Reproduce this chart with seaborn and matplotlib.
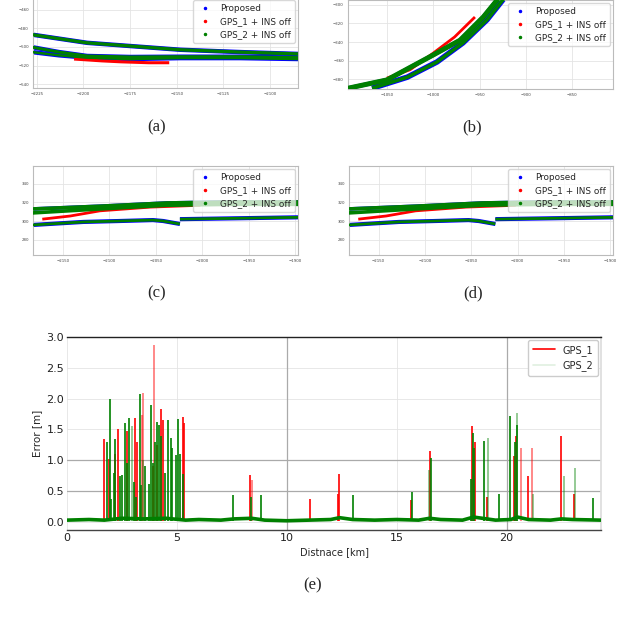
import matplotlib
matplotlib.use("Agg")
import matplotlib.pyplot as plt
from matplotlib.lines import Line2D
import seaborn as sns

sns.set_theme(style="whitegrid")
plt.rcParams.update({
    "font.family": ["DejaVu Sans"],
    "axes.edgecolor": "#bbbbbb",
    "grid.color": "#e4e4e4",
    "grid.linewidth": 0.6,
})

BLUE, RED, GREEN = "#0000ff", "#ff0000", "#008000"
TRAJ_LABELS = ["Proposed", "GPS_1 + INS off", "GPS_2 + INS off"]

# ---------------------------------------------------------------------------
# (a) trajectory segment
# ---------------------------------------------------------------------------
A_XTICKS = [-2225, -2200, -2175, -2150, -2125, -2100]
A_YTICKS = [-460, -480, -500, -520, -540]
A_UP_X = [-2228, -2198, -2148, -2116, -2085]
A_UP_Y = [-486.5, -495.5, -503, -505.5, -507.5]
A_LO_X = [-2228, -2213, -2198, -2175, -2148, -2116, -2085]
A_LO1_Y = [-500, -505.5, -509.7, -510.8, -510.5, -510.5, -511.5]
A_LO2_Y = [-505.4, -509, -511.5, -513, -512, -512, -513]
A_RED_X = [-2205, -2190, -2180, -2165, -2154]
A_RED_Y = [-513, -515, -516, -517, -517]

# ---------------------------------------------------------------------------
# (b) curve segment
# ---------------------------------------------------------------------------
B_XTICKS = [-1050, -1000, -950, -900, -850]
B_YTICKS = [-300, -320, -340, -360, -380]
B_UP_X = [-1092, -1050, -1000, -971, -946, -931, -923]
B_UP_Y = [-390, -381, -354, -338, -313, -294.6, -284]
B_LO_X = [-1066, -1028, -996, -968, -942, -925, -917]
B_LO_Y = [-390, -378, -361.6, -341, -316, -294.6, -284]
B_RED_X = [-1050, -1025, -1000, -977, -955]
B_RED_Y = [-379, -370, -352, -334.6, -313]

# ---------------------------------------------------------------------------
# (c) / (d) parallel road segment
# ---------------------------------------------------------------------------
C_XTICKS = [-2150, -2100, -2050, -2000, -1950, -1900]
C_YTICKS = [340, 320, 300, 280]
C_UP_X = [-2183, -2110, -2038, -1970, -1896]
C_UP1_Y = [313, 316, 319.5, 320.6, 320.6]
C_UP2_Y = [308.7, 313, 317, 318, 318]
C_RED_X = [-2172, -2142, -2110, -2056, -2002]
C_RED_Y = [302, 305.4, 311, 315, 317]
C_LO_X = [-2183, -2128, -2089, -2053, -2042, -2024]
C_LO_Y = [295.7, 299, 300, 301, 300, 296.8]
C_LO2_X = [-2024, -1959, -1896]
C_LO2_Y = [302, 303, 304]

# ---------------------------------------------------------------------------
# (e) error vs distance
# ---------------------------------------------------------------------------
E_XTICKS = [0, 5, 10, 15, 20]
E_YTICKS = [0.0, 0.5, 1.0, 1.5, 2.0, 2.5, 3.0]
E_DARK_X = [10, 20]
E_DARK_Y = [0.5, 1.0]

R_X = [1.70, 1.91, 2.18, 2.30, 2.75, 3.10, 3.20, 3.90, 4.08, 4.27, 4.35,
       5.26, 5.33, 8.33, 11.05, 12.35, 12.38, 15.67, 16.52, 18.43, 18.55,
       19.12, 20.36, 20.43, 20.97, 22.49, 23.05]
R_H = [1.34, 1.02, 1.10, 1.50, 1.47, 1.69, 1.30, 0.90, 1.25, 1.84, 1.65,
       1.71, 1.61, 0.77, 0.38, 0.45, 0.78, 0.35, 1.15, 1.55, 1.30,
       0.41, 1.07, 1.39, 0.74, 1.39, 0.46]
RL_X = [3.41, 3.48, 3.94, 8.42, 20.64, 21.14]
RL_H = [1.73, 2.09, 2.87, 0.68, 1.20, 1.20]

G_X = [1.80, 1.95, 2.00, 2.13, 2.18, 2.40, 2.52, 2.65, 2.75, 2.82, 3.05,
       3.15, 3.32, 3.36, 3.55, 3.72, 3.82, 3.90, 4.00, 4.11, 4.20, 4.30,
       4.45, 4.60, 4.71, 4.80, 4.94, 5.03, 5.12, 5.28, 7.56, 8.38, 8.82,
       13.00, 15.70, 16.55, 18.40, 18.46, 18.52, 18.98, 19.68, 20.17,
       20.40, 20.50, 23.95]
G_H = [1.30, 1.99, 0.38, 0.80, 1.35, 0.75, 0.77, 1.61, 0.95, 1.69, 0.65,
       0.40, 2.07, 0.60, 0.90, 0.62, 1.89, 0.95, 1.30, 1.62, 1.58, 1.40,
       0.80, 1.66, 1.37, 1.20, 1.08, 1.67, 1.10, 0.78, 0.43, 0.40, 0.43,
       0.44, 0.49, 1.04, 0.70, 1.44, 1.20, 1.31, 0.46, 1.72,
       1.30, 1.58, 0.39]
GL_X = [2.95, 3.45, 16.48, 19.15, 20.50, 21.20, 22.60, 23.10]
GL_H = [1.55, 1.00, 0.84, 1.36, 1.77, 0.46, 0.74, 0.88]

BASE_X = [0, 1, 1.7, 2.5, 3.5, 4.5, 5.4, 6, 7, 7.6, 8.4, 9, 10, 11, 12, 12.4,
          13, 14, 15, 16, 16.5, 17, 18, 18.5, 19.1, 19.5, 20.2, 20.5, 21, 22,
          22.5, 23, 24.3]
BASE_Y = [0.03, 0.04, 0.03, 0.06, 0.05, 0.06, 0.03, 0.04, 0.03, 0.05, 0.06,
          0.03, 0.02, 0.03, 0.04, 0.07, 0.04, 0.03, 0.04, 0.03, 0.06, 0.04,
          0.03, 0.08, 0.05, 0.03, 0.04, 0.08, 0.04, 0.03, 0.05, 0.04, 0.03]

W, H = 640, 623
fig = plt.figure(figsize=(W / 100, H / 100), dpi=100)


def px_axes(left, top, right, bottom):
    return fig.add_axes([left / W, 1 - bottom / H, (right - left) / W, (bottom - top) / H])


def style_small(ax, xticks, yticks, xlim, ylim):
    ax.set_xticks(xticks)
    ax.set_yticks(yticks)
    ax.set_xlim(*xlim)
    ax.set_ylim(*ylim)
    ax.tick_params(labelsize=2.8, length=1.5, width=0.4, pad=1.5, colors="#444444")
    for s in ax.spines.values():
        s.set_color("#bbbbbb")
        s.set_linewidth(0.8)
    handles = [Line2D([], [], ls="", marker=".", ms=3, color=c) for c in (BLUE, RED, GREEN)]
    ax.legend(handles, TRAJ_LABELS, loc="upper right", fontsize=6.4, framealpha=0.75,
              borderpad=0.45, handletextpad=0.8, labelspacing=0.45, handlelength=1.8,
              borderaxespad=0.35)


def tr(ax, x, y, color, lw=2.6, z=2):
    ax.plot(x, y, color=color, lw=lw, solid_capstyle="butt", zorder=z)


# (a)
ax = px_axes(33, -3, 298, 88)
tr(ax, A_UP_X, A_UP_Y, BLUE, lw=3.2)
tr(ax, A_LO_X, A_LO1_Y, BLUE, lw=3.2)
tr(ax, A_LO_X, A_LO2_Y, BLUE, lw=3.2)
tr(ax, A_RED_X, A_RED_Y, RED, lw=2.2, z=3)
tr(ax, A_UP_X, A_UP_Y, GREEN, lw=2.4, z=4)
tr(ax, A_LO_X, A_LO1_Y, GREEN, lw=2.2, z=4)
tr(ax, A_LO_X, A_LO2_Y, GREEN, lw=1.8, z=4)
style_small(ax, A_XTICKS, A_YTICKS, (-2227, -2085), (-544.3, -446))

# (b)
ax = px_axes(348, 0, 613, 89)
tr(ax, B_LO_X, B_LO_Y, BLUE, lw=4.0)
tr(ax, B_UP_X, B_UP_Y, BLUE, lw=3.0)
tr(ax, B_RED_X, B_RED_Y, RED, lw=2.0, z=3)
tr(ax, B_UP_X, B_UP_Y, GREEN, lw=3.6, z=4)
tr(ax, B_LO_X, B_LO_Y, GREEN, lw=2.6, z=4)
style_small(ax, B_XTICKS, B_YTICKS, (-1092, -806), (-390.8, -294.6))

# (c) and (d)
for left, right in ((33, 298), (349, 613)):
    ax = px_axes(left, 166, right, 255)
    tr(ax, C_UP_X, C_UP1_Y, BLUE, lw=2.6)
    tr(ax, C_LO_X, C_LO_Y, BLUE, lw=3.0)
    tr(ax, C_LO2_X, C_LO2_Y, BLUE, lw=3.0)
    tr(ax, C_RED_X, C_RED_Y, RED, lw=2.0, z=3)
    tr(ax, C_UP_X, C_UP1_Y, GREEN, lw=2.6, z=4)
    tr(ax, C_UP_X, C_UP2_Y, GREEN, lw=2.6, z=4)
    tr(ax, C_LO_X, C_LO_Y, GREEN, lw=2.0, z=4)
    tr(ax, C_LO2_X, C_LO2_Y, GREEN, lw=2.0, z=4)
    style_small(ax, C_XTICKS, C_YTICKS, (-2182, -1897), (263.3, 359.4))

# (e)
ax = px_axes(67, 337, 601, 530)
ax.vlines(RL_X, 0.02, RL_H, color=RED, alpha=0.5, lw=1.3, zorder=2)
ax.vlines(R_X, 0.02, R_H, color=RED, lw=1.2, zorder=2)
ax.vlines(GL_X, 0.02, GL_H, color=GREEN, alpha=0.45, lw=1.3, zorder=3)
ax.vlines(G_X, 0.02, G_H, color=GREEN, lw=1.2, zorder=3)
sns.lineplot(x=BASE_X, y=BASE_Y, ax=ax, color=GREEN, lw=2.6, zorder=4)
for xv in E_DARK_X:
    ax.axvline(xv, color="#aaaaaa", lw=0.9, zorder=1)
for yv in E_DARK_Y:
    ax.axhline(yv, color="#aaaaaa", lw=0.9, zorder=1)
ax.set_xlim(0, 24.3)
ax.set_ylim(-0.13, 3.0)
ax.set_xticks(E_XTICKS)
ax.set_yticks(E_YTICKS)
ax.set_yticklabels([f"{v:.1f}" for v in E_YTICKS])
ax.tick_params(labelsize=8, length=0, pad=2, colors="#222222")
ax.set_xlabel("Distnace [km]", fontsize=7, labelpad=3)
ax.set_ylabel("Error [m]", fontsize=7.5, labelpad=3)
ax.spines["left"].set_visible(False)
ax.spines["top"].set_color("#222222")
ax.spines["bottom"].set_color("#444444")
ax.spines["top"].set_linewidth(1.0)
ax.spines["bottom"].set_linewidth(1.0)
ax.spines["right"].set_color("#dddddd")
leg_handles = [Line2D([], [], color=RED, lw=1.2),
               Line2D([], [], color=GREEN, lw=1.2, alpha=0.12)]
ax.legend(leg_handles, ["GPS_1", "GPS_2"], loc="upper right", fontsize=7,
          framealpha=1.0, borderpad=0.5, handlelength=2.2, borderaxespad=0.3)

# captions
cap_font = dict(family=["Liberation Serif", "DejaVu Serif"], fontsize=12, ha="center", va="center")
for label, cx, cy in (("(a)", 157, 127), ("(b)", 472, 127), ("(c)", 157, 293),
                      ("(d)", 473, 293), ("(e)", 313, 585)):
    fig.text(cx / W, 1 - cy / H, label, **cap_font)

fig.savefig("out.png", dpi=100)
